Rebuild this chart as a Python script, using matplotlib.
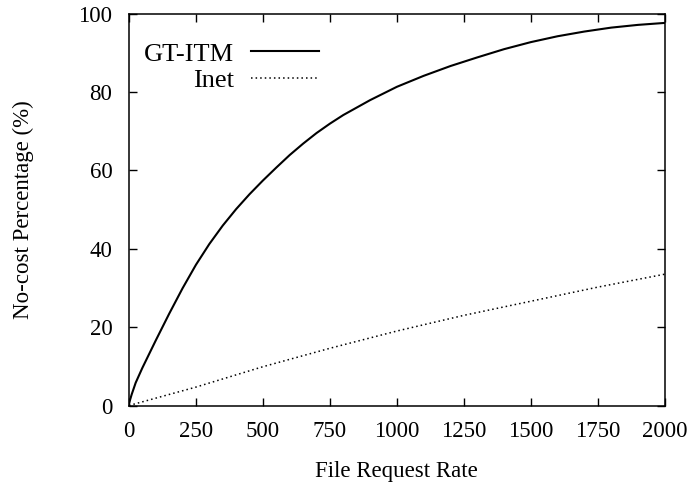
import matplotlib
matplotlib.use("Agg")
import matplotlib.pyplot as plt

plt.rcParams["font.family"] = ["Liberation Serif", "DejaVu Serif"]
plt.rcParams["font.size"] = 16.5

# request rate vs. share of requests served at no cost
rate_gt = [0, 10, 25, 50, 75, 100, 150, 200, 250, 300, 350, 400, 450, 500, 550,
           600, 650, 700, 750, 800, 900, 1000, 1100, 1200, 1300, 1400, 1500,
           1600, 1700, 1800, 1900, 2000]
gt_itm = [0.5, 2.8, 5.8, 9.6, 13.1, 16.6, 23.4, 29.9, 35.9, 41.2, 45.9, 50.1,
          53.9, 57.4, 60.7, 63.9, 66.8, 69.5, 71.9, 74.1, 77.9, 81.3, 84.1,
          86.6, 88.8, 90.9, 92.7, 94.2, 95.4, 96.4, 97.1, 97.6]

rate_inet = [0, 250, 500, 750, 1000, 1250, 1500, 1750, 2000]
inet = [0, 4.7, 9.9, 14.6, 19.0, 23.0, 26.6, 30.2, 33.5]

fig = plt.figure(figsize=(6.99, 4.86), dpi=100)
ax = fig.add_axes([0.1845, 0.1656, 0.7665, 0.8066])

ax.plot(rate_gt, gt_itm, color="black", lw=1.5, label="GT-ITM")
ax.plot(rate_inet, inet, color="black", lw=1.1, linestyle=(0, (1, 2)), label="Inet")

ax.set_xlim(0, 2000)
ax.set_ylim(0, 100)
ax.set_xticks(range(0, 2001, 250))
ax.set_yticks(range(0, 101, 20))
ax.tick_params(direction="in", length=6, width=1, top=True, right=True)
ax.tick_params(axis="x", pad=11)
ax.tick_params(axis="y", pad=12)
for s in ax.spines.values():
    s.set_linewidth(1.1)

ax.set_xlabel("File Request Rate", labelpad=14)
ax.set_ylabel("No-cost Percentage (%)", labelpad=32)

ax.legend(loc="upper left", bbox_to_anchor=(0.028, 0.927), markerfirst=False,
          frameon=False, borderpad=0, borderaxespad=0, handlelength=2.58,
          handletextpad=0.64, labelspacing=0.12, prop={"size": 19})

fig.savefig("out.png", dpi=100)
